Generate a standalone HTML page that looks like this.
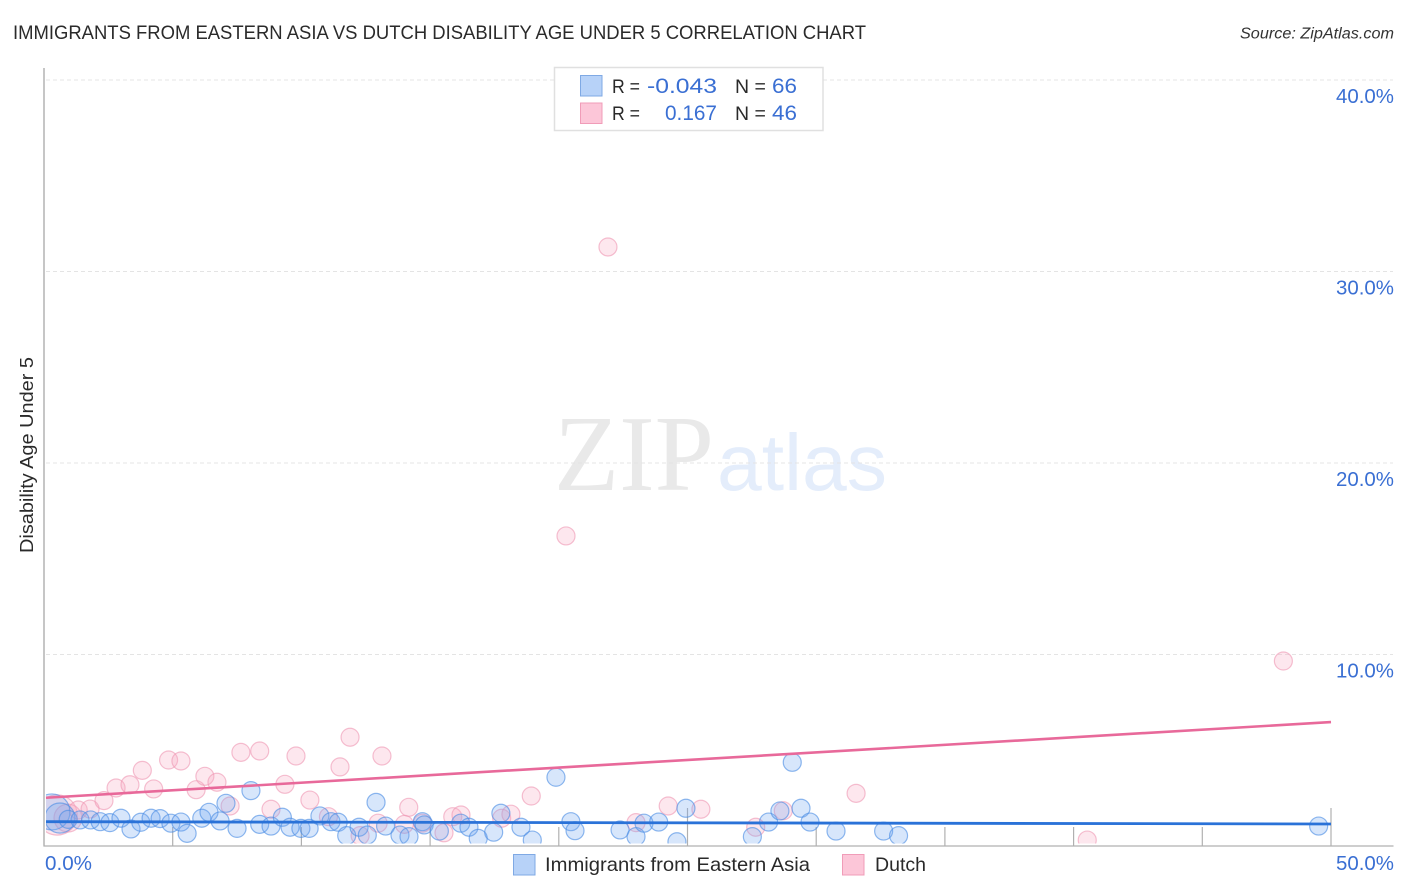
<!DOCTYPE html>
<html lang="en">
<head>
<meta charset="utf-8">
<title>Immigrants from Eastern Asia vs Dutch Disability Age Under 5 Correlation Chart</title>
<style>
html,body{margin:0;padding:0;background:#fff;width:1406px;height:892px;overflow:hidden}
svg{display:block}
text{font-family:"Liberation Sans",sans-serif}
</style>
</head>
<body>
<svg id="chart" xmlns="http://www.w3.org/2000/svg" width="1406" height="892" viewBox="0 0 1406 892">
  <defs>
    <clipPath id="plot-clip"><rect x="46" y="60" width="1347" height="783.5"/></clipPath>
  </defs>
  <text x="13" y="39" font-size="19.5" fill="#2a2a2a" textLength="853" lengthAdjust="spacingAndGlyphs">IMMIGRANTS FROM EASTERN ASIA VS DUTCH DISABILITY AGE UNDER 5 CORRELATION CHART</text>
  <text x="1394" y="38.5" font-size="15.5" font-style="italic" fill="#333" text-anchor="end" textLength="154" lengthAdjust="spacingAndGlyphs">Source: ZipAtlas.com</text>

  <g>
    <text x="554" y="490" font-size="108" fill="#e9e9e9" style="font-family:'Liberation Serif',serif" textLength="160" lengthAdjust="spacingAndGlyphs">ZIP</text>
    <text x="717" y="490" font-size="80" fill="#e4edfb" textLength="170" lengthAdjust="spacingAndGlyphs">atlas</text>
  </g>

  <g id="grid"></g>
  <g id="axes"></g>
  <g id="y-labels"></g>
  <g id="points" clip-path="url(#plot-clip)"></g>
  <g id="trends"></g>

  <text transform="translate(33,455) rotate(-90)" font-size="18" fill="#2a2a2a" text-anchor="middle" textLength="196" lengthAdjust="spacingAndGlyphs">Disability Age Under 5</text>
  <text x="45" y="870" font-size="20" fill="#3a6fd3" textLength="47" lengthAdjust="spacingAndGlyphs">0.0%</text>
  <text x="1394" y="870" font-size="20" fill="#3a6fd3" text-anchor="end" textLength="58" lengthAdjust="spacingAndGlyphs">50.0%</text>

  <g>
    <rect x="554.5" y="67.5" width="268.5" height="63" fill="#fff" stroke="#e0e0e0" stroke-width="1.5"/>
    <rect x="580.5" y="75.5" width="21.5" height="20.5" fill="#b7d2f8" stroke="#7fa9e4" stroke-width="1"/>
    <rect x="580.5" y="103" width="21.5" height="20.5" fill="#fcc6d8" stroke="#f09cb8" stroke-width="1"/>
    <text x="612" y="93" font-size="19.5" fill="#2a2a2a" textLength="28" lengthAdjust="spacingAndGlyphs">R =</text>
    <text x="717" y="93" font-size="21" fill="#3a6fd3" text-anchor="end" textLength="70" lengthAdjust="spacingAndGlyphs">-0.043</text>
    <text x="735" y="93" font-size="19.5" fill="#2a2a2a">N =</text>
    <text x="797" y="93" font-size="21" fill="#3a6fd3" text-anchor="end" textLength="25" lengthAdjust="spacingAndGlyphs">66</text>
    <text x="612" y="120" font-size="19.5" fill="#2a2a2a" textLength="28" lengthAdjust="spacingAndGlyphs">R =</text>
    <text x="717" y="120" font-size="21" fill="#3a6fd3" text-anchor="end" textLength="52" lengthAdjust="spacingAndGlyphs">0.167</text>
    <text x="735" y="120" font-size="19.5" fill="#2a2a2a">N =</text>
    <text x="797" y="120" font-size="21" fill="#3a6fd3" text-anchor="end" textLength="25" lengthAdjust="spacingAndGlyphs">46</text>
  </g>

  <g>
    <rect x="513.5" y="854.5" width="21.5" height="20.5" fill="#b7d2f8" stroke="#7fa9e4" stroke-width="1"/>
    <text x="545" y="871" font-size="19.5" fill="#2a2a2a" textLength="265" lengthAdjust="spacingAndGlyphs">Immigrants from Eastern Asia</text>
    <rect x="842.5" y="854.5" width="21.5" height="20.5" fill="#fcc6d8" stroke="#f09cb8" stroke-width="1"/>
    <text x="875" y="871" font-size="19.5" fill="#2a2a2a" textLength="51" lengthAdjust="spacingAndGlyphs">Dutch</text>
  </g>
</svg>
<script>
const yTickValues = [10, 20, 30, 40];
const yTickLabels = ["10.0%", "20.0%", "30.0%", "40.0%"];
const xTickValues = [5, 10, 15, 20, 25, 30, 35, 40, 45, 50];
const xMajorTicks = [25, 50];

const blueX = [0.31,0.62,0.94,1.40,1.81,2.18,2.56,2.99,3.38,3.76,4.16,4.51,4.93,5.32,5.56,6.13,6.41,6.84,7.50,7.07,8.04,8.38,8.82,9.26,9.56,9.98,10.30,10.72,11.15,11.43,11.76,12.24,12.56,12.90,13.27,13.83,14.18,14.70,14.77,15.36,16.19,16.51,16.87,17.47,17.75,18.53,18.97,19.89,20.47,20.63,22.38,23.00,23.31,23.88,24.59,24.94,27.52,28.15,28.59,29.07,29.41,29.76,30.77,32.62,33.20,49.52];
const blueY = [1.78,1.46,1.39,1.36,1.36,1.27,1.22,1.45,0.89,1.24,1.45,1.43,1.19,1.25,0.66,1.45,1.76,1.31,0.92,2.23,2.89,1.13,1.04,1.50,0.98,0.92,0.92,1.57,1.27,1.24,0.54,0.98,0.57,2.28,1.04,0.57,0.49,1.27,1.10,0.78,1.19,0.98,0.40,0.72,1.71,0.98,0.31,3.59,1.27,0.80,0.84,0.49,1.19,1.25,0.22,1.97,0.49,1.25,1.83,4.37,1.97,1.25,0.78,0.78,0.54,1.04];
const blueWeight = [4,2.8,1,1,1,1,1,1,1,1,1,1,1,1,1,1,1,1,1,1,1,1,1,1,1,1,1,1,1,1,1,1,1,1,1,1,1,1,1,1,1,1,1,1,1,1,1,1,1,1,1,1,1,1,1,1,1,1,1,1,1,1,1,1,1,1];

const pinkX = [0.51,0.93,1.33,1.79,2.33,2.80,3.34,3.82,4.26,4.84,5.32,5.91,6.25,6.72,7.65,8.38,7.23,8.82,9.36,9.79,10.33,11.05,11.50,11.89,13.13,12.98,12.28,14.17,14.00,14.70,15.54,15.88,16.20,17.78,18.14,18.93,23.00,24.25,25.52,27.65,28.72,31.55,48.15,40.53,21.91,20.28];
const pinkY = [1.62,1.46,1.88,1.93,2.37,3.03,3.20,3.95,2.98,4.49,4.44,2.94,3.64,3.33,4.89,4.96,2.09,1.92,3.22,4.70,2.40,1.53,4.13,5.68,4.70,1.19,0.54,2.02,1.13,1.19,0.69,1.53,1.62,1.45,1.66,2.61,1.22,2.09,1.92,0.98,1.84,2.75,9.66,0.31,31.28,16.19];
const pinkWeight = [5,2.4,1,1,1,1,1,1,1,1,1,1,1,1,1,1,1,1,1,1,1,1,1,1,1,1,1,1,1,1,1,1,1,1,1,1,1,1,1,1,1,1,1,1,1,1];

const blueTrendX = [0, 50];
const blueTrendY = [1.27, 1.15];
const pinkTrendX = [0, 50];
const pinkTrendY = [2.52, 6.47];

const SVG_NS = "http://www.w3.org/2000/svg";
const xScale = v => 44 + v * 25.74;
const yScale = v => 846 - v * 19.15;
const rScale = w => 9 * Math.sqrt(w);

function make(tag, attrs, parent) {
  const el = document.createElementNS(SVG_NS, tag);
  for (const k in attrs) el.setAttribute(k, attrs[k]);
  parent.appendChild(el);
  return el;
}

const grid = document.getElementById("grid");
const axes = document.getElementById("axes");
const yLabels = document.getElementById("y-labels");
const points = document.getElementById("points");
const trends = document.getElementById("trends");

yTickValues.forEach((v, i) => {
  const line = make("line", {x1: 46, x2: 1393, y1: yScale(v), y2: yScale(v), stroke: "#e4e4e4", "stroke-width": 1, "stroke-dasharray": "4 3"}, grid);
  
  
  const label = make("text", {x: 1394, y: yScale(v) + 23, "font-size": 20, fill: "#3a6fd3", "text-anchor": "end", textLength: 58, lengthAdjust: "spacingAndGlyphs"}, yLabels);
  label.textContent = yTickLabels[i];
  
  
});

const yAxis = make("line", {x1: 44, x2: 44, y1: 68, y2: 846.5, stroke: "#a8a8a8", "stroke-width": 1.3}, axes);


const xAxis = make("line", {x1: 43.5, x2: 1393.5, y1: 846, y2: 846, stroke: "#b0b0b0", "stroke-width": 1.3}, axes);



xTickValues.forEach(v => {
  const top = xMajorTicks.includes(v) ? 808 : 827;
  const tick = make("line", {x1: xScale(v), x2: xScale(v), y1: top, y2: 846, stroke: "#b0b0b0", "stroke-width": 1.2}, axes);
  
  
});

pinkX.forEach((x, i) => {
  const c = make("circle", {cx: xScale(x), cy: yScale(pinkY[i]), r: rScale(pinkWeight[i]), fill: "rgba(248,170,195,0.28)", stroke: "rgba(238,150,178,0.6)", "stroke-width": 1.2}, points);
  
  
});

blueX.forEach((x, i) => {
  const c = make("circle", {cx: xScale(x), cy: yScale(blueY[i]), r: rScale(blueWeight[i]), fill: "rgba(110,165,240,0.28)", stroke: "rgba(75,140,228,0.62)", "stroke-width": 1.2}, points);
  
  
});

const pinkTrend = make("line", {x1: Math.max(xScale(pinkTrendX[0]), 46), x2: xScale(pinkTrendX[1]), y1: yScale(pinkTrendY[0]), y2: yScale(pinkTrendY[1]), stroke: "#e8699a", "stroke-width": 2.6}, trends);


const blueTrend = make("line", {x1: Math.max(xScale(blueTrendX[0]), 46), x2: xScale(blueTrendX[1]), y1: yScale(blueTrendY[0]), y2: yScale(blueTrendY[1]), stroke: "#2a72d8", "stroke-width": 2.8}, trends);


</script>
</body>
</html>
